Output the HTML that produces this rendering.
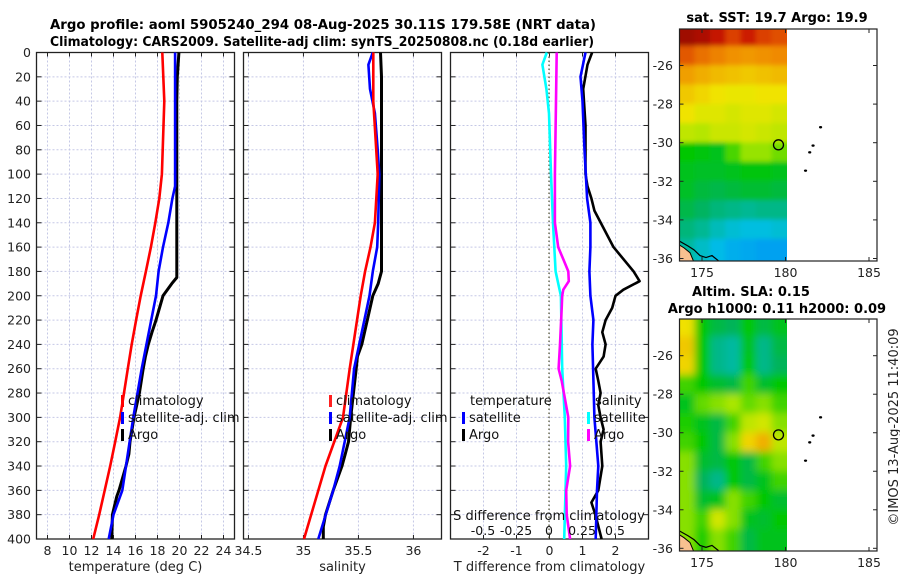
<!DOCTYPE html>
<html><head><meta charset="utf-8"><style>
html,body{margin:0;padding:0;background:#fff;}
svg{display:block;font-family:"DejaVu Sans","Liberation Sans",sans-serif;}
</style></head><body>
<svg id="fig" width="900" height="580" viewBox="0 0 900 580">
<defs>
<filter id="blurSla" x="0" y="0" width="1" height="1"><feGaussianBlur stdDeviation="4"/></filter>
<filter id="blurSst" x="0" y="0" width="1" height="1"><feGaussianBlur stdDeviation="2.5"/></filter>
<clipPath id="clipSst"><rect x="679.5" y="29" width="107.5" height="232"/></clipPath>
<clipPath id="clipSla"><rect x="679.5" y="319" width="107.5" height="232"/></clipPath>
</defs>
<g font-weight="bold" font-size="13" fill="#000">
<text x="50" y="29" textLength="546" lengthAdjust="spacingAndGlyphs">Argo profile: aoml 5905240_294 08-Aug-2025 30.11S 179.58E (NRT data)</text>
<text x="50" y="46" textLength="544" lengthAdjust="spacingAndGlyphs">Climatology: CARS2009. Satellite-adj clim: synTS_20250808.nc (0.18d earlier)</text>
<text x="777" y="22" text-anchor="middle">sat. SST: 19.7 Argo: 19.9</text>
<text x="751" y="296" text-anchor="middle">Altim. SLA: 0.15</text>
<text x="777" y="313" text-anchor="middle">Argo h1000: 0.11 h2000: 0.09</text>
</g>
<g id="plots"></g>
<text transform="translate(898,427) rotate(-90)" text-anchor="middle" font-size="13" fill="#222">©IMOS 13-Aug-2025 11:40:09</text>
</svg>
<script>
// ---- data ----
const depthTicks = [0,20,40,60,80,100,120,140,160,180,200,220,240,260,280,300,320,340,360,380,400];
const tempTicks = [8,10,12,14,16,18,20,22,24];
const salTicks = [34.5,35,35.5,36];
const salTickLabels = ["34.5","35","35.5","36"];
const tdiffTicks = [-2,-1,0,1,2];
const sdiffTicks = [-0.5,-0.25,0,0.25,0.5];
const sdiffTickLabels = ["-0.5","-0.25","0","0.25","0.5"];

const tClimDepth = [0,40,100,120,140,160,180,200,220,240,260,280,300,320,340,360,380,400];
const tClim      = [18.44,18.62,18.4,18.16,17.8,17.4,16.95,16.47,16.05,15.65,15.3,14.95,14.6,14.15,13.7,13.2,12.7,12.15];
const tSatDepth  = [0,110,120,140,160,180,200,260,300,340,360,380,400];
const tSat       = [19.6,19.6,19.35,18.98,18.5,18.1,17.86,16.56,15.8,15.14,14.8,14.0,13.56];
const tArgoDepth = [0,20,40,185,190,200,220,230,240,250,260,280,300,320,330,340,360,365,380,400];
const tArgo      = [19.95,19.8,19.75,19.75,19.3,18.5,17.86,17.5,17.16,16.9,16.7,16.35,15.86,15.5,15.4,15.14,14.5,14.3,13.9,13.85];

const sClimDepth = [0,40,100,140,160,180,200,260,300,340,400];
const sClim      = [35.635,35.635,35.675,35.65,35.61,35.56,35.52,35.42,35.36,35.2,35.005];
const sSatDepth  = [0,10,30,50,80,100,140,160,180,200,260,300,340,360,400];
const sSat       = [35.63,35.59,35.605,35.65,35.675,35.69,35.68,35.67,35.63,35.6,35.46,35.42,35.33,35.27,35.135];
const sArgoDepth = [0,20,180,190,200,240,250,260,300,320,330,340,360,380,390,400];
const sArgo      = [35.70,35.71,35.71,35.68,35.63,35.53,35.49,35.48,35.43,35.41,35.38,35.35,35.27,35.2,35.18,35.18];

const dTSatDepth = [0,20,40,80,120,140,160,180,200,220,240,260,300,340,360,400];
const dTSat      = [1.09,0.94,1.0,1.06,1.14,1.24,1.24,1.21,1.24,1.33,1.3,1.32,1.36,1.48,1.44,1.4];
const dTArgoDepth= [0,10,30,60,100,110,120,130,160,180,188,195,200,210,220,230,240,250,260,270,280,290,300,310,320,340,360,370,380,400];
const dTArgo     = [1.29,1.15,1.02,1.09,1.09,1.15,1.27,1.36,1.94,2.55,2.73,2.24,2.0,1.9,1.7,1.6,1.7,1.64,1.4,1.48,1.55,1.48,1.55,1.64,1.55,1.6,1.48,1.27,1.39,1.58];
const dSSatDepth = [0,10,30,50,100,140,180,200,260,300,340,400];
const dSSat      = [-0.017,-0.05,-0.02,0,0.015,0.03,0.05,0.09,0.1,0.12,0.13,0.115];
const dSArgoDepth= [0,40,100,140,160,170,180,188,195,200,210,240,260,270,300,320,340,360,380,400];
const dSArgo     = [0.058,0.053,0.045,0.045,0.07,0.108,0.146,0.15,0.108,0.1,0.096,0.083,0.073,0.096,0.146,0.145,0.16,0.13,0.134,0.16];

const latTicks = [-26,-28,-30,-32,-34,-36];
const lonTicks = [175,180,185];
// SST grid rows: lat -24.5 .. -35.5 ; cols lon 174.1 .. 179.5
const sstGrid = [
 [24.2,24.0,23.6,23.0,23.5,23.0,22.8],
 [22.7,22.4,22.2,22.0,21.9,22.0,22.1],
 [21.8,21.6,21.4,21.3,21.2,21.3,21.4],
 [21.2,21.0,20.8,20.7,20.7,20.8,20.8],
 [20.8,20.6,20.6,20.5,20.6,20.6,20.5],
 [20.3,20.2,20.4,20.4,20.5,20.4,20.3],
 [19.2,19.1,19.0,19.6,20.0,20.0,19.8],
 [19.0,18.9,18.9,19.0,19.1,19.1,19.0],
 [18.9,18.7,18.6,18.7,18.8,18.8,18.7],
 [18.6,18.4,18.2,18.1,18.0,18.1,18.1],
 [18.2,18.0,17.7,17.5,17.4,17.4,17.5],
 [17.9,17.6,17.3,17.1,17.0,16.9,16.9]];
const slaGrid = [
 [0.15,0.06,0.03,0.02,0.06,0.03,0.05],
 [0.17,0.06,0.0,-0.01,0.05,0.0,0.03],
 [0.16,0.06,0.0,-0.01,0.06,0.0,0.02],
 [0.08,0.06,0.04,0.03,0.08,0.04,0.06],
 [0.05,0.09,0.1,0.11,0.09,0.1,0.08],
 [0.07,0.05,0.03,0.08,0.12,0.13,0.1],
 [0.08,0.06,0.03,0.1,0.16,0.19,0.12],
 [0.1,0.04,0.03,0.06,0.03,0.08,0.1],
 [0.1,0.02,0.0,0.06,0.03,0.05,0.08],
 [0.1,0.04,0.05,0.1,0.08,0.06,0.04],
 [0.1,0.08,0.13,0.1,0.05,0.04,0.06],
 [0.1,0.07,0.1,0.08,0.03,0.05,0.05]];
const islandLon = [182.1,181.65,181.45,181.2];
const islandLat = [-29.2,-30.15,-30.5,-31.45];
const argoLon = 179.58, argoLat = -30.11;

// ---- helpers ----
const NS="http://www.w3.org/2000/svg";
const root=document.getElementById('plots');
function mk(tag,attrs,parent){const e=document.createElementNS(NS,tag);for(const k in attrs)e.setAttribute(k,attrs[k]);(parent||root).appendChild(e);return e;}
function txt(s,attrs,parent){const e=mk('text',attrs,parent);e.textContent=s;return e;}

const yTop=52.5,yBot=539;
const yD=d=>yTop+(d/400)*(yBot-yTop);
const panels=[
 {name:'temperature',x0:36.5,x1:234.5,lo:7,hi:25},
 {name:'salinity',x0:243.5,x1:441.5,lo:34.455,hi:36.255},
 {name:'difference',x0:450.5,x1:648.5,lo:-3,hi:3}];
const sx=(p,v)=>p.x0+(v-p.lo)/(p.hi-p.lo)*(p.x1-p.x0);
const sdx=v=>549+v*132;

function drawAxes(p,ticks,labels,title,idx){
  const g=mk('g',{});
  
  
  ticks.forEach((t,i)=>{
    const x=sx(p,t);
    const l=mk('line',{x1:x,x2:x,y1:yTop,y2:yBot,stroke:'#c5c8e6','stroke-width':1,'stroke-dasharray':'2,2'},g);
    
    mk('line',{x1:x,x2:x,y1:yBot,y2:yBot-4,stroke:'#222'},g);
    mk('line',{x1:x,x2:x,y1:yTop,y2:yTop+4,stroke:'#222'},g);
    const tl=txt(labels[i],{x:x,y:555,'text-anchor':'middle','font-size':12.5,fill:'#222'},g);
    
    
  });
  depthTicks.forEach(d=>{
    const y=yD(d);
    mk('line',{x1:p.x0,x2:p.x1,y1:y,y2:y,stroke:'#c5c8e6','stroke-width':1,'stroke-dasharray':'2,2'},g);
    mk('line',{x1:p.x0,x2:p.x0+5,y1:y,y2:y,stroke:'#222'},g);
    mk('line',{x1:p.x1,x2:p.x1-5,y1:y,y2:y,stroke:'#222'},g);
    if(idx===0){const yl=txt(String(d),{x:31,y:y+4.5,'text-anchor':'end','font-size':12.5,fill:'#222'},g);
      }
  });
  mk('rect',{x:p.x0,y:yTop,width:p.x1-p.x0,height:yBot-yTop,fill:'none',stroke:'#222','stroke-width':1.3},g);
  const at=txt(title,{x:(p.x0+p.x1)/2,y:571,'text-anchor':'middle','font-size':13,fill:'#222'},g);
  
  
}
function line(xs,ds,xf,color,name,w){
  const pts=xs.map((v,i)=>xf(v).toFixed(1)+','+yD(ds[i]).toFixed(1)).join(' ');
  const e=mk('polyline',{points:pts,fill:'none',stroke:color,'stroke-width':w||2.6,'stroke-linejoin':'round'});
  
  
}
function legendEntry(x,y,color,label,name){
  const g=mk('g',{});
  
  
  if(color) mk('rect',{x:x,y:y-10,width:3,height:12,fill:color},g);
  txt(label,{x:x+7,y:y,'font-size':13,fill:'#111'},g);
}

drawAxes(panels[0],tempTicks,tempTicks.map(String),'temperature (deg C)',0);
drawAxes(panels[1],salTicks,salTickLabels,'salinity',1);
drawAxes(panels[2],tdiffTicks,tdiffTicks.map(String),'T difference from climatology',2);

const zl=mk('line',{x1:549,x2:549,y1:yTop,y2:yBot,stroke:'#555533','stroke-width':1.2,'stroke-dasharray':'1.5,2.5'});



const P0=v=>sx(panels[0],v),P1=v=>sx(panels[1],v),P2=v=>sx(panels[2],v);
line(tArgo,tArgoDepth,P0,'#000','temp-argo-line',3);
line(tSat,tSatDepth,P0,'#0000ff','temp-satellite-line');
line(tClim,tClimDepth,P0,'#ff0000','temp-climatology-line');
line(sArgo,sArgoDepth,P1,'#000','sal-argo-line',3);
line(sSat,sSatDepth,P1,'#0000ff','sal-satellite-line');
line(sClim,sClimDepth,P1,'#ff0000','sal-climatology-line');
line(dTArgo,dTArgoDepth,P2,'#000','tdiff-argo-line');
line(dTSat,dTSatDepth,P2,'#0000ff','tdiff-satellite-line');
line(dSSat,dSSatDepth,sdx,'#00ffff','sdiff-satellite-line');
line(dSArgo,dSArgoDepth,sdx,'#ff00ff','sdiff-argo-line');

legendEntry(121,405,'#ff0000','climatology','legend-climatology');
legendEntry(121,422,'#0000ff','satellite-adj. clim','legend-satellite-adj');
legendEntry(121,439,'#000','Argo','legend-argo');
legendEntry(329,405,'#ff2020','climatology','legend-sal-climatology');
legendEntry(329,422,'#0000ff','satellite-adj. clim','legend-sal-satellite-adj');
legendEntry(329,439,'#000','Argo','legend-sal-argo');
legendEntry(463,405,null,'temperature','legend-temperature-header');
legendEntry(462,422,'#0000ff','satellite','legend-tdiff-satellite');
legendEntry(462,439,'#000','Argo','legend-tdiff-argo');
legendEntry(588,405,null,'salinity','legend-salinity-header');
legendEntry(587,422,'#00ffff','satellite','legend-sdiff-satellite');
legendEntry(587,439,'#ff00ff','Argo','legend-sdiff-argo');

const sdt=txt('S difference from climatology',{x:549,y:520,'text-anchor':'middle','font-size':13,fill:'#111'});


sdiffTicks.forEach((t,i)=>{
  const e=txt(sdiffTickLabels[i],{x:sdx(t),y:535,'text-anchor':'middle','font-size':12.5,fill:'#111'});
  
  
});

// ---- maps ----
const cmapStops=[[0,0,0,180],[0.25,0,120,255],[0.35,0,190,230],[0.45,0,180,90],[0.52,0,200,0],[0.6,170,230,0],[0.66,240,230,0],[0.78,240,140,0],[0.9,210,30,0],[1,140,0,0]];
function cmap(t){t=Math.max(0,Math.min(1,t));
  for(let i=1;i<cmapStops.length;i++){const a=cmapStops[i-1],b=cmapStops[i];
    if(t<=b[0]){const f=(t-a[0])/(b[0]-a[0]);
      return 'rgb('+[1,2,3].map(k=>Math.round(a[k]+(b[k]-a[k])*f)).join(',')+')';}}
  return 'rgb(140,0,0)';}
const lonX=lon=>702+(lon-175)*16.7;
function drawMap(top,latY,grid,vmin,vmax,clip,filt,name){
  const g=mk('g',{});
  
  
  const img=mk('g',{'clip-path':'url(#'+clip+')'},g);
  const inner=mk('g',{filter:'url(#'+filt+')'},img);
  const cw=107.5/7;
  grid.forEach((row,r)=>{
    let ya=latY(-24.0-r), yb=latY(-25.0-r);
    if(r===0) ya-=15;
    if(r===grid.length-1) yb+=15;
    row.forEach((v,c)=>{
      let x=679.5+c*cw, w=cw+0.6;
      if(c===0){x-=15;w+=15;}
      if(c===row.length-1){w+=15;}
      const e=mk('rect',{x:x-0.3,y:ya-0.3,width:w,height:yb-ya+0.6,fill:cmap((v-vmin)/(vmax-vmin))},inner);
      
    });
  });
  mk('rect',{x:787,y:top-2,width:20,height:240,fill:'#fff'},img);
  const land=mk('path',{d:`M679.5 ${latY(-35.3)} L684 ${latY(-35.45)} L690 ${latY(-35.7)} L694 ${latY(-36.2)} L679.5 ${latY(-36.2)} Z`,fill:'#f8c090'},img);
  
  const coast=mk('polyline',{points:`679.5,${latY(-35.1)} 688,${latY(-35.35)} 694,${latY(-35.55)} 700,${latY(-35.85)} 706,${latY(-35.95)} 712,${latY(-35.85)} 718,${latY(-36.1)} 720,${latY(-36.2)}`,fill:'none',stroke:'#000','stroke-width':1.2},img);
  
  mk('polyline',{points:`679.5,${latY(-35.3)} 684,${latY(-35.45)} 690,${latY(-35.7)} 694,${latY(-36.2)}`,fill:'none',stroke:'#000','stroke-width':1},img);
  islandLon.forEach((lo,i)=>{
    const e=mk('ellipse',{cx:lonX(lo),cy:latY(islandLat[i]),rx:1.6,ry:1.2,fill:'#000'},g);
    
  });
  const ci=mk('circle',{cx:lonX(argoLon),cy:latY(argoLat),r:5,fill:'none',stroke:'#000','stroke-width':1.3},g);
  
  
  const bottom=top+232;
  mk('rect',{x:679.5,y:top,width:197.5,height:232,fill:'none',stroke:'#222','stroke-width':1.2},g);
  latTicks.forEach(l=>{const y=latY(l);
    mk('line',{x1:679.5,x2:683.5,y1:y,y2:y,stroke:'#222'},g);
    mk('line',{x1:877,x2:873,y1:y,y2:y,stroke:'#222'},g);
    const e=txt(String(l),{x:673,y:y+4.5,'text-anchor':'end','font-size':12.5,fill:'#222'},g);
    });
  lonTicks.forEach(l=>{const x=lonX(l);
    mk('line',{x1:x,x2:x,y1:bottom,y2:bottom-4,stroke:'#222'},g);
    mk('line',{x1:x,x2:x,y1:top,y2:top+4,stroke:'#222'},g);
    const e=txt(String(l),{x:x,y:bottom+16,'text-anchor':'middle','font-size':12.5,fill:'#222'},g);
    });
}
drawMap(29,l=>65.5+(-26-l)*19.3,sstGrid,13.5,24.5,'clipSst','blurSst','sst-map');
drawMap(319,l=>355.7+(-26-l)*19.26,slaGrid,-0.25,0.35,'clipSla','blurSla','sla-map');
</script>
</body></html>
